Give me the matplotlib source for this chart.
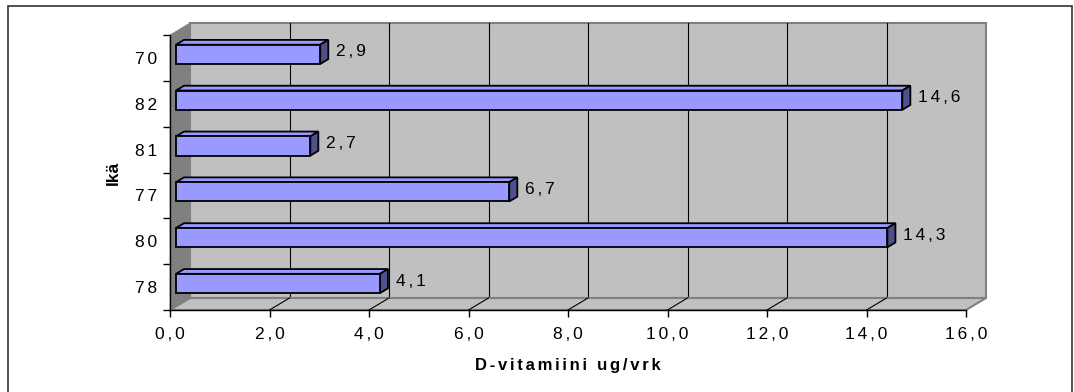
import matplotlib.pyplot as plt
from matplotlib.patches import Polygon, Rectangle
from matplotlib.transforms import IdentityTransform, offset_copy
import numpy as np

# D-vitamin intake per person, bottom row first
ages = ['78', '80', '77', '81', '82', '70']
intake = [4.1, 14.3, 6.7, 2.7, 14.6, 2.9]
x_ticks = [0, 2, 4, 6, 8, 10, 12, 14, 16]

FONT = ['Liberation Sans', 'DejaVu Sans']
WALL = (20, 12)          # depth of the 3d box in pixels (right, up)
BAR_FRONT = 0.3          # bar depth range as a share of the box depth
BAR_BACK = 0.7
BAR_H = 0.42


def spaced(s):
    # wide letter spacing, like the old office chart fonts
    return '\u2006'.join(s)


def fmt(v):
    return f'{v:.1f}'.replace('.', ',')


fig = plt.figure(figsize=(10.74, 3.92), dpi=100)
fig.patch.set_facecolor('white')

W, H = 1074, 392
ax = fig.add_axes([170 / W, 1 - 310 / H, 796 / W, 275 / H])
ax.set_xlim(0, 16)
ax.set_ylim(-0.5, len(ages) - 0.5)
ax.patch.set_visible(False)
for s in ['top', 'right']:
    ax.spines[s].set_visible(False)
for s in ['left', 'bottom']:
    ax.spines[s].set_linewidth(1.0)
    ax.spines[s].set_zorder(10)

ident = IdentityTransform()


def px(x, y, depth=0.0):
    p = ax.transData.transform((x, y))
    return (p[0] + WALL[0] * depth, p[1] + WALL[1] * depth)


def add(artist):
    artist.set_clip_on(False)
    ax.add_artist(artist)


y0, y1 = -0.5, len(ages) - 0.5

# back wall with gridlines
add(Polygon([px(0, y0, 1), px(16, y0, 1), px(16, y1, 1), px(0, y1, 1)],
            closed=True, facecolor='#C0C0C0', edgecolor='#808080', lw=1.5,
            transform=ident, zorder=1))
for xv in x_ticks[1:-1]:
    add(plt.Line2D(*zip(px(xv, y0, 1), px(xv, y1, 1)), color='#000000',
                   lw=0.8, transform=ident, zorder=2))

# floor
add(Polygon([px(0, y0), px(16, y0), px(16, y0, 1), px(0, y0, 1)],
            closed=True, facecolor='#C0C0C0', edgecolor='#808080', lw=1.5,
            transform=ident, zorder=3))
for xv in x_ticks[1:-1]:
    add(plt.Line2D(*zip(px(xv, y0), px(xv, y0, 1)), color='#000000',
                   lw=0.8, transform=ident, zorder=4))

# left side wall
add(Polygon([px(0, y0), px(0, y1), px(0, y1, 1), px(0, y0, 1)],
            closed=True, facecolor='#808080', edgecolor='#808080', lw=0.5,
            transform=ident, zorder=3))

# bars: front faces through barh, shifted to the bar depth
front_tr = offset_copy(ax.transData, fig, x=WALL[0] * BAR_FRONT,
                       y=WALL[1] * BAR_FRONT, units='dots')
ypos = np.arange(len(ages))
bars = ax.barh(ypos, intake, height=BAR_H, color='#9999FF', edgecolor='black',
               lw=1.3, transform=front_tr, zorder=7)
for b in bars:
    b.set_clip_on(False)

lab_tr = offset_copy(ax.transData, fig, x=22, y=6, units='dots')
for yi, v in zip(ypos, intake):
    top, bot = yi + BAR_H / 2, yi - BAR_H / 2
    add(Polygon([px(0, top, BAR_FRONT), px(v, top, BAR_FRONT),
                 px(v, top, BAR_BACK), px(0, top, BAR_BACK)],
                closed=True, facecolor='#9999FF', edgecolor='black',
                lw=1.3, transform=ident, zorder=6, joinstyle='miter'))
    add(Polygon([px(v, bot, BAR_FRONT), px(v, top, BAR_FRONT),
                 px(v, top, BAR_BACK), px(v, bot, BAR_BACK)],
                closed=True, facecolor='#505090', edgecolor='black',
                lw=1.3, transform=ident, zorder=6, joinstyle='miter'))
    ax.text(v, yi, spaced(fmt(v)), transform=lab_tr, ha='left', va='center',
            fontsize=12.5, family=FONT, color='black', zorder=8, clip_on=False)

# axes ticks and labels
ax.set_xticks(x_ticks)
ax.set_xticklabels([spaced(fmt(t)) for t in x_ticks], family=FONT, fontsize=12.5)
ax.set_yticks(ypos)
ax.set_yticklabels([spaced(a) for a in ages], family=FONT, fontsize=12.5)
ax.set_yticks(np.arange(len(ages) + 1) - 0.5, minor=True)
ax.tick_params(axis='x', length=5, width=1, pad=7)
ax.tick_params(axis='y', which='major', length=0, pad=9)
ax.tick_params(axis='y', which='minor', length=5, width=1)

ax.set_xlabel(spaced('D-vitamiini ug/vrk'), family=FONT, fontsize=12,
              fontweight='bold', labelpad=12)
ax.set_ylabel('Ikä', family=FONT, fontsize=12.5, fontweight='bold', labelpad=10)

# chart frame
fig.add_artist(Rectangle((8 / W, -0.02), 1064 / W, 1 - 6 / H + 0.02,
                         transform=fig.transFigure, fill=False,
                         edgecolor='#333333', lw=1.2))

fig.savefig('out.png', dpi=100)
